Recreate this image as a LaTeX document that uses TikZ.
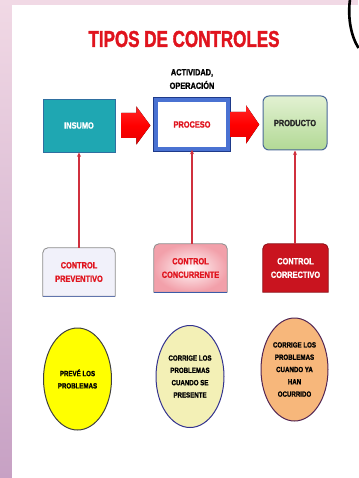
\documentclass[tikz,border=0pt]{standalone}
\usepackage{fontspec}
\setmainfont{Liberation Sans}
\newfontfamily\narf{Liberation Sans Bold}[FakeStretch=0.82, FakeBold=1.2]
\newfontfamily\titf{Liberation Sans Bold}[FakeStretch=0.74, FakeBold=1.6]
\usetikzlibrary{shapes.geometric,arrows.meta,backgrounds,calc}
\definecolor{tealbox}{HTML}{1FA7B2}
\definecolor{tealedge}{HTML}{2F6FA0}
\definecolor{procblue}{HTML}{4A72D2}
\definecolor{procdark}{HTML}{1E3A8A}
\definecolor{titred}{HTML}{E0141E}
\definecolor{linered}{HTML}{D0303E}
\definecolor{greentop}{HTML}{E2F1D2}
\definecolor{greenbot}{HTML}{B2D995}
\definecolor{greenedge}{HTML}{4A6898}
\definecolor{prevfill}{HTML}{F1F1FA}
\definecolor{pinkout}{HTML}{F2A0AA}
\definecolor{pinkin}{HTML}{FFFAFA}
\definecolor{darkred}{HTML}{C9141F}
\definecolor{ell1}{HTML}{FFFF00}
\definecolor{ell2}{HTML}{F3F0B6}
\definecolor{ell3}{HTML}{F7B77B}
\definecolor{bgtop}{HTML}{F1D9E5}
\definecolor{bgbot}{HTML}{C7A1C4}
\begin{document}
\begin{tikzpicture}[x=1pt,y=-1pt,
  lbl/.style={font=\narf\fontsize{9}{13.5}\selectfont, align=center, inner sep=0pt},
  boxnode/.style={lbl, minimum width=#1, minimum height=48pt},
  ellnode/.style={ellipse, draw, line width=1pt, minimum width=68pt, minimum height=102pt, inner sep=0pt,
    align=center, font=\narf\fontsize{7.5}{12.3}\selectfont},
  vline/.style={draw=linered, line width=1.2pt, -{Stealth[length=4.5pt,width=4pt]}},
  blockarrow/.style={top color=red!85!white, bottom color=red!90!black, middle color=red}
]
\useasboundingbox (0,0) rectangle (358,478);
% background
\begin{pgfonlayer}{background}
\fill[top color=bgtop, bottom color=bgbot] (0,0) rectangle (12,478);
\fill[bgtop] (0,0) rectangle (358,5);
\fill[white] (12,5) rectangle (358,478);
\end{pgfonlayer}
\draw[line width=2.6pt] (350,-1) .. controls (347.5,18) and (351,36) .. (358.5,48);

% title
\node[font=\titf\fontsize{23}{26}\selectfont, text=titred, inner sep=0pt] (title) at (184,39) {TIPOS DE CONTROLES};
\node[lbl] (act) at (192,79) {ACTIVIDAD,\\OPERACIÓN};

% top row
\node[lbl, text=white, fill=tealbox, draw=tealedge, line width=0.8pt, minimum width=72pt, minimum height=53pt] (ins) at (79,125.5) {INSUMO};
\node[lbl, text=titred, draw=procdark, double=procblue, double distance=4pt, line width=0.6pt, fill=white,
  minimum width=72.8pt, minimum height=49.8pt] (pro) at (192,124.5) {PROCESO};
\node[lbl, text=black!85, top color=greentop, bottom color=greenbot, draw=greenedge, line width=1pt,
  rounded corners=6pt, minimum width=64pt, minimum height=54pt] (prd) at (295,123) {PRODUCTO};

% block arrows
\fill[blockarrow] ($(ins.east)+(6,-12.5)$) -- ++(15,0) -- ++(0,-6.5) -- ++(14,19) -- ++(-14,19) -- ++(0,-6.5) -- ++(-15,0) -- cycle;
\fill[blockarrow] ($(pro.east)+(1.5,-12.5)$) -- ++(16,0) -- ++(0,-6.5) -- ++(13,19) -- ++(-13,19) -- ++(0,-6.5) -- ++(-16,0) -- cycle;

% control boxes
\node[boxnode=72pt, text=titred] (cp) at (79,272) {CONTROL\\PREVENTIVO};
\node[boxnode=73pt, text=titred] (cc) at (190.5,268) {CONTROL\\CONCURRENTE};
\node[boxnode=65pt, text=white] (cr) at (295.5,268) {CONTROL\\CORRECTIVO};
\begin{pgfonlayer}{background}
\draw[fill=prevfill, draw=black!45, line width=0.8pt] (cp.south west) -- ([yshift=-5pt]cp.north west) arc[start angle=180,end angle=90,radius=5pt] -- ([xshift=-5pt]cp.north east) arc[start angle=90,end angle=0,radius=5pt] -- (cp.south east) -- cycle;
\draw[procdark!70, line width=1.2pt] (cp.south west) -- (cp.south east);
\draw[inner color=pinkin, outer color=pinkout, draw=black!45, line width=0.8pt] (cc.south west) -- ([yshift=-5pt]cc.north west) arc[start angle=180,end angle=90,radius=5pt] -- ([xshift=-5pt]cc.north east) arc[start angle=90,end angle=0,radius=5pt] -- (cc.south east) -- cycle;
\draw[procblue!80!black, line width=1pt] (cc.south west) -- (cc.south east);
\draw[fill=darkred, draw=darkred!70!black, line width=0.8pt] (cr.south west) -- ([yshift=-5pt]cr.north west) arc[start angle=180,end angle=90,radius=5pt] -- ([xshift=-5pt]cr.north east) arc[start angle=90,end angle=0,radius=5pt] -- (cr.south east) -- cycle;
\end{pgfonlayer}

% vertical connectors
\draw[vline] (cp.north) -- (ins.south);
\draw[vline] (cc.north -| pro.south) -- (pro.south);
\draw[vline] (cr.north -| prd.south) -- (prd.south);

% ellipses
\node[ellnode, fill=ell1, draw=black!75] (e1) at (77.5,379) {PREVÉ LOS\\PROBLEMAS};
\node[ellnode, fill=ell2, draw=black!40!blue!60!gray] (e2) at (190,376.5) {CORRIGE LOS\\PROBLEMAS\\CUANDO SE\\PRESENTE};
\node[ellnode, fill=ell3, draw=black!50!violet!70!gray, minimum width=67pt, minimum height=103pt] (e3) at (294.5,369.5) {CORRIGE LOS\\PROBLEMAS\\CUANDO YA\\HAN\\OCURRIDO};
\end{tikzpicture}
\end{document}
